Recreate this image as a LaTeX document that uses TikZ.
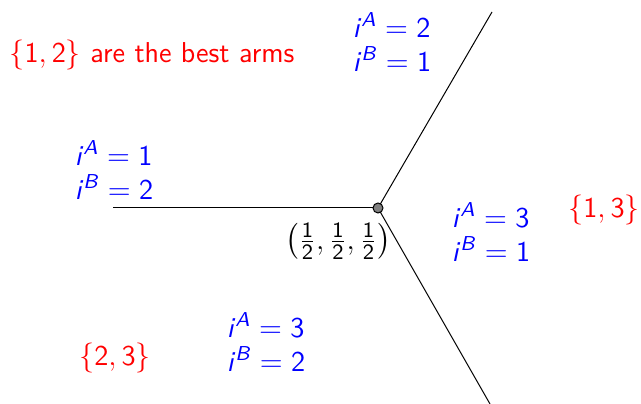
\documentclass[tikz,border=0pt]{standalone}
\usepackage{amsmath}
\newcommand{\ivar}[2]{$\textsf{\textit{i}}^{\textsf{\textit{#1}}} = \textsf{#2}$}
\newcommand{\half}{\frac{\textsf{1}}{\textsf{2}}}
\begin{document}
\begin{tikzpicture}[x=0.4pt,y=-0.4pt,
  every node/.style={font=\fontsize{11.5}{13.8}\selectfont},
  ivals/.style={blue,align=left},
  best/.style={red}]
\useasboundingbox (0,0) rectangle (641,404);
\coordinate (O) at (378,208);
\coordinate (L) at (113,208);
\coordinate (U) at (492,12);
\coordinate (D) at (490,404);
\draw[color=black, thin] (O) -- (L);
\draw[color=black, thin] (O) -- (U);
\draw[color=black, thin] (O) -- (D);
\filldraw[fill=gray, draw=black, thin] (O) circle (5);
\path(338,241) [black] node[font=\fontsize{12.5}{15}\selectfont] (mid) {$\left(\half, \half, \half\right)$};
\path(392,42) node[ivals] (top) {\ivar{A}{2}\\\ivar{B}{1}};
\path(114,170) node[ivals] (left) {\ivar{A}{1}\\\ivar{B}{2}};
\path(491,232) node[ivals] (right) {\ivar{A}{3}\\\ivar{B}{1}};
\path(266,342) node[ivals] (bottom) {\ivar{A}{3}\\\ivar{B}{2}};
\path(152,55) node[best] (title) {$\{\textsf{1},\textsf{2}\}$ \textsf{are the best arms}};
\path(604,210) node[best] (pair13) {$\{\textsf{1},\textsf{3}\}$};
\path(115,358) node[best] (pair23) {$\{\textsf{2},\textsf{3}\}$};
\end{tikzpicture}
\end{document}
